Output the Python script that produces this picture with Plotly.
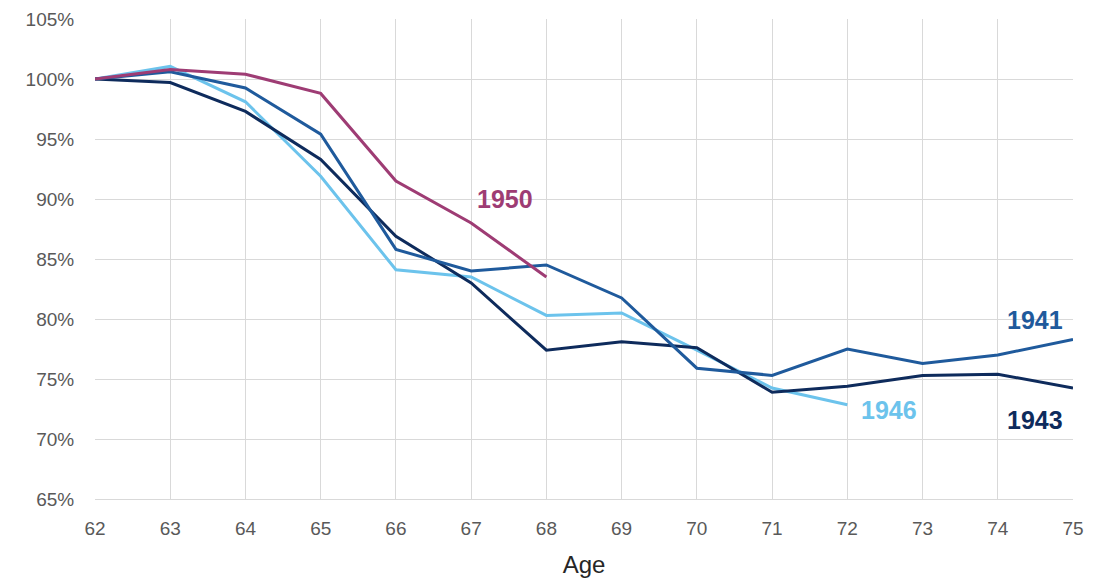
import plotly.graph_objects as go

ages = list(range(62, 76))
y1950 = [100, 100.8, 100.4, 98.8, 91.5, 88.0, 83.5]
y1941 = [100, 100.6, 99.25, 95.4, 85.8, 84.0, 84.5, 81.75, 75.9, 75.3, 77.5, 76.3, 77.0, 78.3]
y1943 = [100, 99.7, 97.3, 93.3, 86.9, 83.0, 77.4, 78.1, 77.6, 73.9, 74.4, 75.3, 75.4, 74.25]
y1946 = [100, 101.05, 98.1, 91.9, 84.1, 83.5, 80.3, 80.5, 77.4, 74.25, 72.85]
yticks = list(range(65, 106, 5))
ytick_text = ["%d%%" % v for v in yticks]

series = [
    ("1946", y1946, "#6CC3EC"),
    ("1943", y1943, "#0E2B5C"),
    ("1941", y1941, "#1F5A9C"),
    ("1950", y1950, "#9E3C74"),
]

fig = go.Figure()
for name, ys, col in series:
    fig.add_trace(go.Scatter(x=ages[:len(ys)], y=ys, mode="lines", name=name,
                             line=dict(color=col, width=3)))

labels = [
    ("1950", 67.45, 90.0, "#9E3C74"),
    ("1941", 74.5, 79.95, "#1F5A9C"),
    ("1946", 72.55, 72.4, "#6CC3EC"),
    ("1943", 74.5, 71.6, "#0E2B5C"),
]
for t, x, y, c in labels:
    fig.add_annotation(x=x, y=y, text="<b>%s</b>" % t, showarrow=False,
                       font=dict(family="Liberation Sans, Arial", size=25, color=c))

fig.update_layout(
    width=1094, height=583,
    margin=dict(l=87, r=29, t=11, b=92, autoexpand=False),
    plot_bgcolor="white", paper_bgcolor="white",
    showlegend=False,
    font=dict(family="Liberation Sans, Arial", size=19, color="#595959"),
    xaxis=dict(range=[62, 75], tickvals=ages, showgrid=True, gridcolor="#d9d9d9",
               gridwidth=1, zeroline=False, showline=True, linecolor="#d9d9d9",
               ticks="outside", ticklen=12, tickcolor="rgba(0,0,0,0)",
               tickfont=dict(size=19, color="#595959"),
               title=dict(text="Age", font=dict(size=24, color="#262626"), standoff=18)),
    yaxis=dict(range=[65, 105], tickvals=yticks, ticktext=ytick_text,
               showgrid=True, gridcolor="#d9d9d9", gridwidth=1, zeroline=False,
               showline=False, ticks="outside", ticklen=16, tickcolor="rgba(0,0,0,0)",
               tickfont=dict(size=19, color="#595959")),
)
fig.write_html("out.html")
